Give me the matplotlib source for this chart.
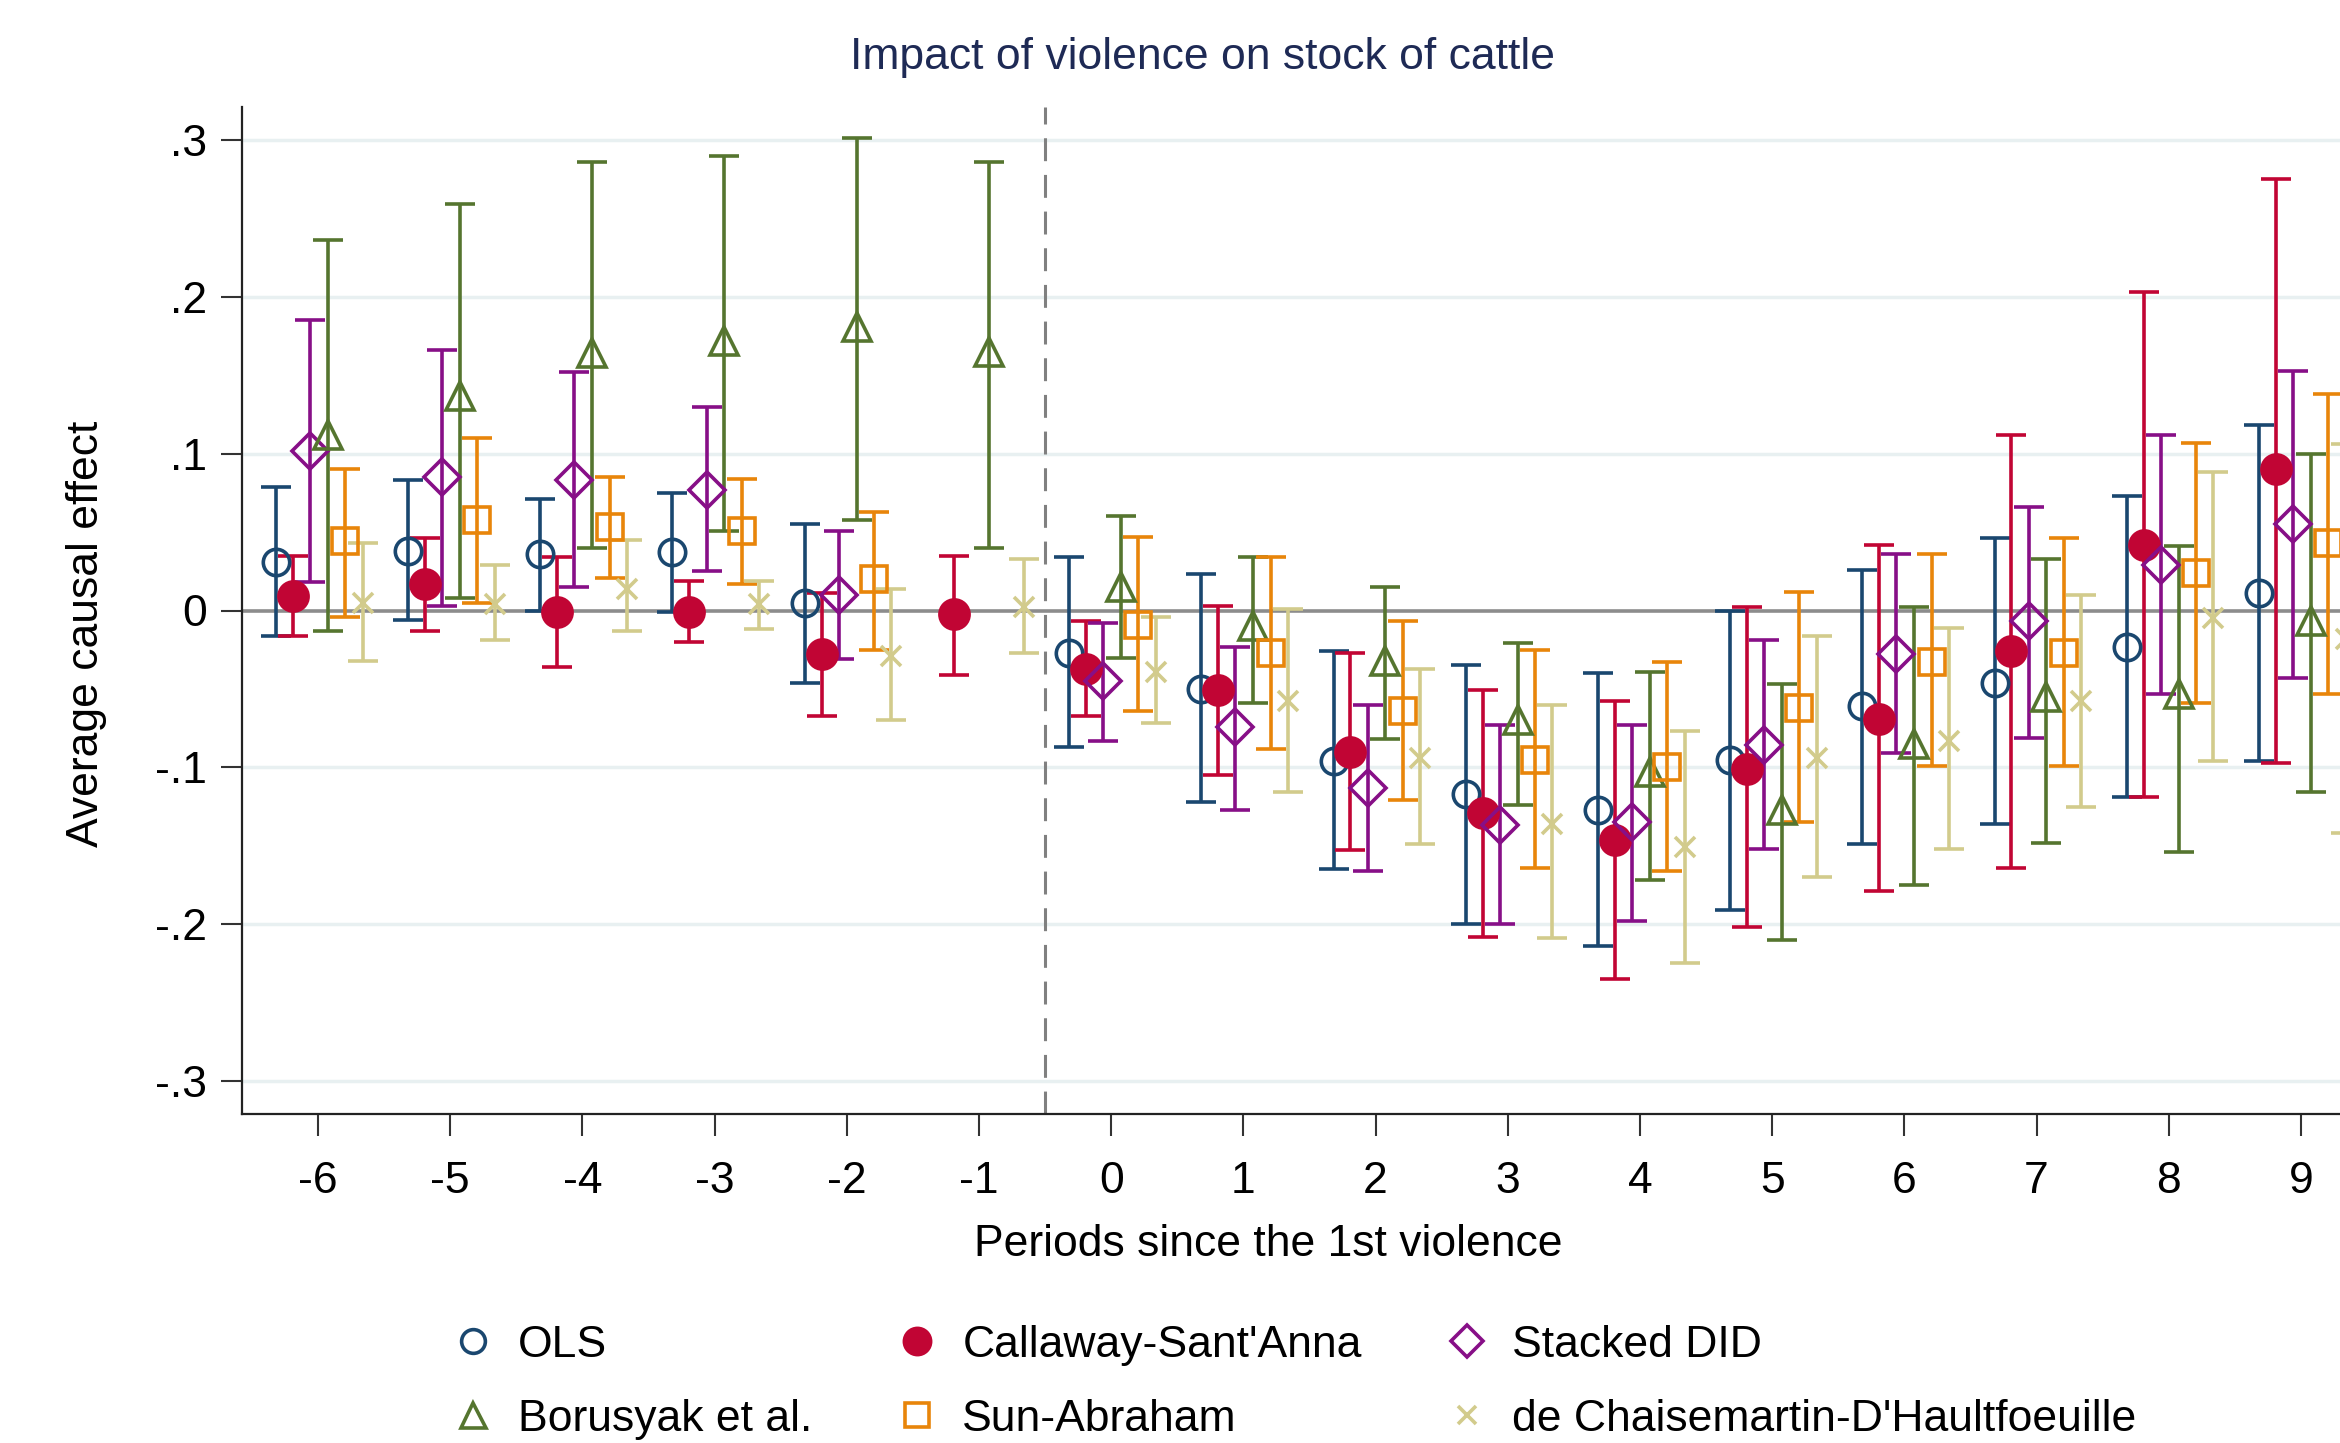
import numpy as np
import matplotlib.pyplot as plt

plt.rcParams['font.family'] = ['Liberation Sans', 'DejaVu Sans']

nan = np.nan
periods = np.array([-6, -5, -4, -3, -2, -1, 0, 1, 2, 3, 4, 5, 6, 7, 8, 9])

# OLS
ols = [0.031, 0.038, 0.036, 0.037, 0.005, nan, -0.027, -0.050, -0.096, -0.117, -0.127, -0.095, -0.061, -0.046, -0.023, 0.011]
ols_lo = [-0.016, -0.006, 0.000, -0.001, -0.046, nan, -0.087, -0.122, -0.165, -0.200, -0.214, -0.191, -0.149, -0.136, -0.119, -0.096]
ols_hi = [0.079, 0.083, 0.071, 0.075, 0.055, nan, 0.034, 0.023, -0.026, -0.035, -0.040, 0.000, 0.026, 0.046, 0.073, 0.118]

# Callaway-Sant'Anna
csa = [0.009, 0.017, -0.001, -0.001, -0.028, -0.002, -0.037, -0.051, -0.090, -0.129, -0.146, -0.101, -0.069, -0.026, 0.042, 0.090]
csa_lo = [-0.016, -0.013, -0.036, -0.020, -0.067, -0.041, -0.067, -0.105, -0.153, -0.208, -0.235, -0.202, -0.179, -0.164, -0.119, -0.097]
csa_hi = [0.035, 0.046, 0.034, 0.019, 0.011, 0.035, -0.007, 0.003, -0.027, -0.051, -0.058, 0.002, 0.042, 0.112, 0.203, 0.275]

# Stacked DID
stk = [0.102, 0.085, 0.083, 0.077, 0.010, nan, -0.045, -0.074, -0.113, -0.137, -0.135, -0.086, -0.028, -0.007, 0.029, 0.055]
stk_lo = [0.018, 0.003, 0.015, 0.025, -0.031, nan, -0.083, -0.127, -0.166, -0.200, -0.198, -0.152, -0.091, -0.081, -0.053, -0.043]
stk_hi = [0.185, 0.166, 0.152, 0.130, 0.051, nan, -0.008, -0.023, -0.060, -0.073, -0.073, -0.019, 0.036, 0.066, 0.112, 0.153]

# Borusyak et al.
bor = [0.112, 0.137, 0.164, 0.172, 0.181, 0.165, 0.015, -0.010, -0.032, -0.070, -0.103, -0.127, -0.085, -0.055, -0.053, -0.007]
bor_lo = [-0.013, 0.008, 0.040, 0.051, 0.058, 0.040, -0.030, -0.059, -0.082, -0.124, -0.172, -0.210, -0.175, -0.148, -0.154, -0.116]
bor_hi = [0.236, 0.259, 0.286, 0.290, 0.301, 0.286, 0.060, 0.034, 0.015, -0.021, -0.039, -0.047, 0.002, 0.033, 0.041, 0.100]

# Sun-Abraham
sa = [0.044, 0.058, 0.053, 0.051, 0.020, nan, -0.009, -0.027, -0.064, -0.095, -0.100, -0.062, -0.033, -0.027, 0.024, 0.043]
sa_lo = [-0.004, 0.005, 0.021, 0.017, -0.025, nan, -0.064, -0.088, -0.121, -0.164, -0.166, -0.135, -0.099, -0.099, -0.059, -0.053]
sa_hi = [0.090, 0.110, 0.085, 0.084, 0.063, nan, 0.047, 0.034, -0.007, -0.025, -0.033, 0.012, 0.036, 0.046, 0.107, 0.138]

# de Chaisemartin-D'Haultfoeuille
dch = [0.005, 0.004, 0.014, 0.004, -0.029, 0.002, -0.039, -0.058, -0.094, -0.136, -0.151, -0.094, -0.083, -0.058, -0.005, -0.018]
dch_lo = [-0.032, -0.019, -0.013, -0.012, -0.070, -0.027, -0.072, -0.116, -0.149, -0.209, -0.225, -0.170, -0.152, -0.125, -0.096, -0.142]
dch_hi = [0.043, 0.029, 0.045, 0.019, 0.014, 0.033, -0.004, 0.001, -0.037, -0.060, -0.077, -0.016, -0.011, 0.010, 0.088, 0.106]

yticks = [0.3, 0.2, 0.1, 0, -0.1, -0.2, -0.3]
ytick_labels = ['.3', '.2', '.1', '0', '-.1', '-.2', '-.3']

# name, est, lo, hi, x offset, color, marker, size, filled
series = [
    ('OLS', ols, ols_lo, ols_hi, -0.318, '#1a476f', 'o', 19, False),
    ("Callaway-Sant'Anna", csa, csa_lo, csa_hi, -0.19, '#c10534', 'o', 21, True),
    ('Stacked DID', stk, stk_lo, stk_hi, -0.06, '#870f87', 'D', 18, False),
    ('Borusyak et al.', bor, bor_lo, bor_hi, 0.074, '#55752f', '^', 20, False),
    ('Sun-Abraham', sa, sa_lo, sa_hi, 0.206, '#e8850a', 's', 19, False),
    ("de Chaisemartin-D'Haultfoeuille", dch, dch_lo, dch_hi, 0.338, '#d2cb8c', 'x', 14, False),
]

FS = 32
fig = plt.figure(figsize=(23.4, 14.43), dpi=100)
W, H = 2340, 1443
ax = fig.add_axes([242 / W, 1 - 1114 / H, 1 - 242 / W, (1114 - 107) / H])

ax.set_xlim(-6.574, 9.295)
ax.set_ylim(-0.321, 0.321)

for y in yticks:
    if y != 0:
        ax.axhline(y, color='#e8f0f1', lw=2.5, zorder=0)
ax.axhline(0, color='#8c8c8c', lw=2.6, zorder=1)
ax.axvline(-0.5, color='#808080', lw=2.2, ls=(0, (7.5, 4.5)), zorder=1)

handles = {}
for name, est, lo, hi, off, col, mk, ms, filled in series:
    est = np.array(est)
    lo = np.array(lo)
    hi = np.array(hi)
    x = periods + off
    ax.errorbar(x, est, yerr=[est - lo, hi - est], fmt='none', ecolor=col,
                elinewidth=2.6, capsize=10.5, capthick=2.6, zorder=2)
    ln, = ax.plot(x, est, ls='none', marker=mk, ms=ms, mew=2.6, color=col,
                  mfc=col if filled else 'none', mec=col, zorder=3, label=name)
    handles[name] = ln

for s in ['top', 'right']:
    ax.spines[s].set_visible(False)
for s in ['left', 'bottom']:
    ax.spines[s].set_linewidth(1.6)
    ax.spines[s].set_color('#222222')

ax.set_xticks(periods)
ax.set_xticklabels([str(p) for p in periods])
ax.set_yticks(yticks)
ax.set_yticklabels(ytick_labels)
ax.tick_params(axis='x', length=16, width=1.5, pad=18, labelsize=FS, color='#333333')
ax.tick_params(axis='y', length=15, width=1.5, pad=10, labelsize=FS, color='#333333')

fig.text(1203 / W, 1 - 69 / H, 'Impact of violence on stock of cattle', ha='center', va='baseline',
         fontsize=FS, color='#1e2a55')
fig.text(1268 / W, 1 - 1256 / H, 'Periods since the 1st violence', ha='center', va='baseline',
         fontsize=FS, color='black')
fig.text(98 / W, 1 - 634 / H, 'Average causal effect', rotation=90, rotation_mode='anchor',
         ha='center', va='baseline', fontsize=FS, color='black')

order = ['OLS', 'Borusyak et al.', "Callaway-Sant'Anna", 'Sun-Abraham', 'Stacked DID',
         "de Chaisemartin-D'Haultfoeuille"]
fig.legend([handles[n] for n in order], order, ncol=3, loc='upper left',
           bbox_to_anchor=(455 / W, 1 - 1325 / H), frameon=False, fontsize=FS,
           handlelength=0.8, handletextpad=0.61, columnspacing=1.97, labelspacing=0.74,
           borderpad=0, borderaxespad=0, markerscale=0.9)

fig.savefig('out.png', dpi=100, facecolor='white')
